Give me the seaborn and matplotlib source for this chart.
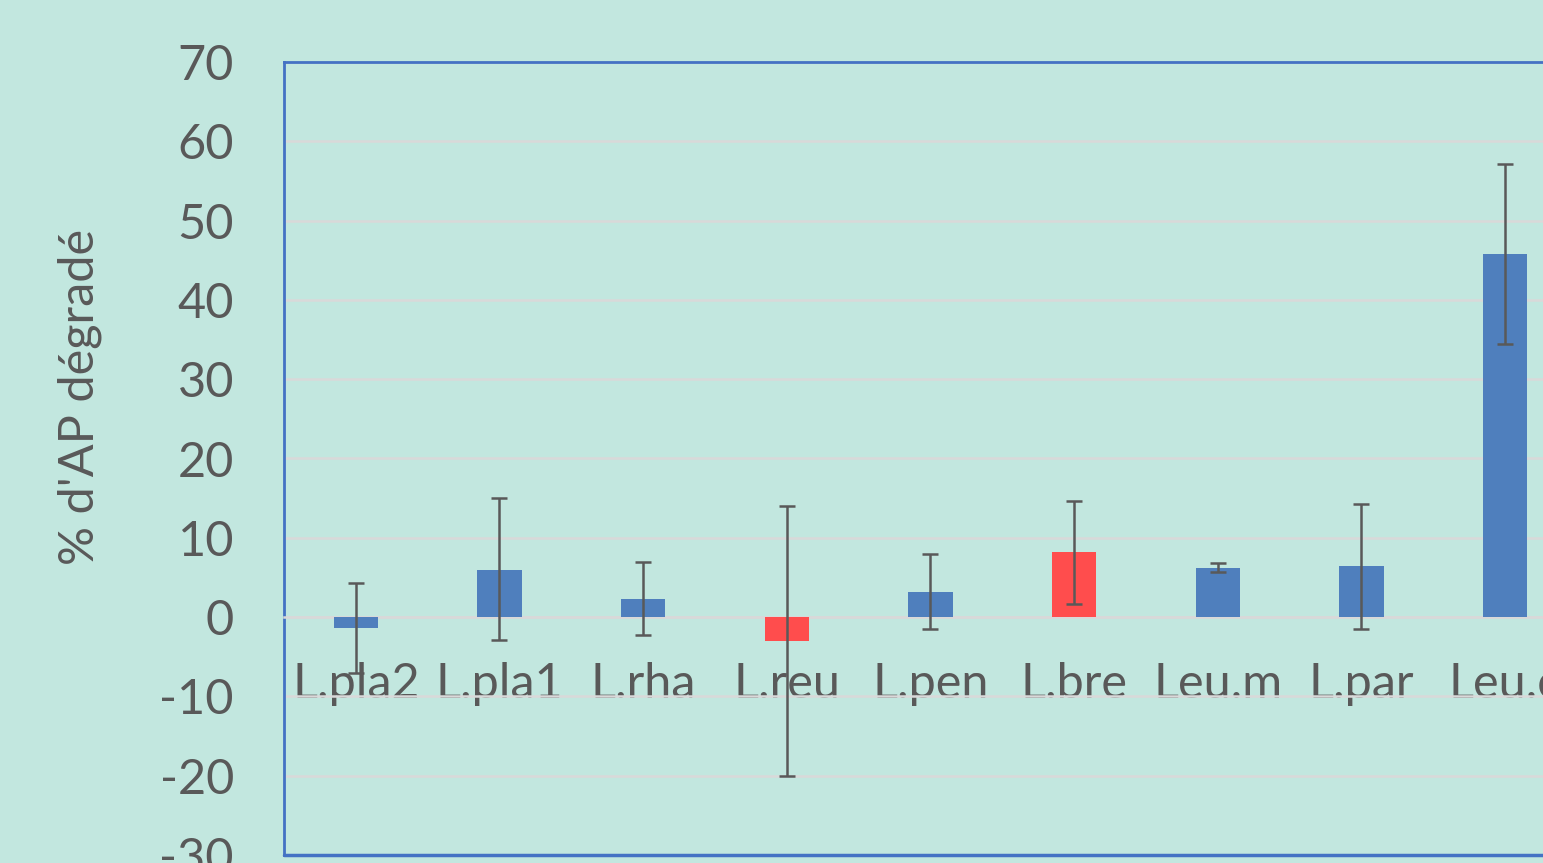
import matplotlib
matplotlib.use("Agg")
import matplotlib.pyplot as plt
import seaborn as sns
import pandas as pd

# données
souches = ["L.pla2", "L.pla1", "L.rha", "L.reu", "L.pen", "L.bre", "Leu.m", "L.par", "Leu.c"]
moyennes = [-1.4, 5.9, 2.3, -3.0, 3.2, 8.2, 6.2, 6.4, 45.8]
err_haut = [4.3, 15.0, 6.9, 14.0, 7.9, 14.7, 6.8, 14.3, 57.2]
err_bas = [-7.0, -2.9, -2.2, -20.0, -1.5, 1.7, 5.7, -1.5, 34.4]
couleurs = ["#4F7FBD", "#4F7FBD", "#4F7FBD", "#FF4D4D", "#4F7FBD",
            "#FF4D4D", "#4F7FBD", "#4F7FBD", "#4F7FBD"]

fond = "#C2E7DF"
gris = "#595959"

sns.set_theme(style="white")
plt.rcParams["font.family"] = ["Lato", "DejaVu Sans"]
plt.rcParams["axes.unicode_minus"] = False

df = pd.DataFrame({"souche": souches, "val": moyennes})

fig = plt.figure(figsize=(15.43, 8.63), dpi=100, facecolor=fond)
ax = fig.add_axes([284 / 1543, 1 - 855 / 863, (1577 - 284) / 1543, (855 - 62) / 863])
ax.set_facecolor(fond)

sns.barplot(data=df, x="souche", y="val", hue="souche", palette=couleurs,
            width=0.31, saturation=1, linewidth=0, legend=False, ax=ax,
            errorbar=None, zorder=3)

yerr = [[m - b for m, b in zip(moyennes, err_bas)],
        [h - m for m, h in zip(moyennes, err_haut)]]
ax.errorbar(range(len(souches)), moyennes, yerr=yerr, fmt="none",
            ecolor=gris, elinewidth=1.8, capsize=6, capthick=1.8, zorder=4)

ax.set_ylim(-30, 70)
ax.set_xlim(-0.5, len(souches) - 0.5)
ax.set_yticks(range(-30, 71, 10))
ax.yaxis.grid(True, color="#D9D9D9", linewidth=1.8, zorder=0)
ax.set_axisbelow(True)

for s in ["left", "top", "right"]:
    ax.spines[s].set_color("#4472C4")
    ax.spines[s].set_linewidth(2)
ax.spines["bottom"].set_position(("data", 0))
ax.spines["bottom"].set_color("#D9D9D9")
ax.spines["bottom"].set_linewidth(1.8)
ax.axhline(-30, color="#4472C4", linewidth=2.5, clip_on=False, zorder=5)

ax.tick_params(axis="y", length=0, pad=36, labelsize=35, labelcolor=gris)
ax.tick_params(axis="x", length=0, pad=32, labelsize=35, labelcolor=gris)
ax.set_xlabel("")
ax.set_ylabel("")

fig.text(80 / 1543, 1 - 397 / 863, "% d'AP dégradé", rotation=90,
         ha="center", va="center", fontsize=35, color=gris)

fig.savefig("out.png", dpi=100, facecolor=fond)
